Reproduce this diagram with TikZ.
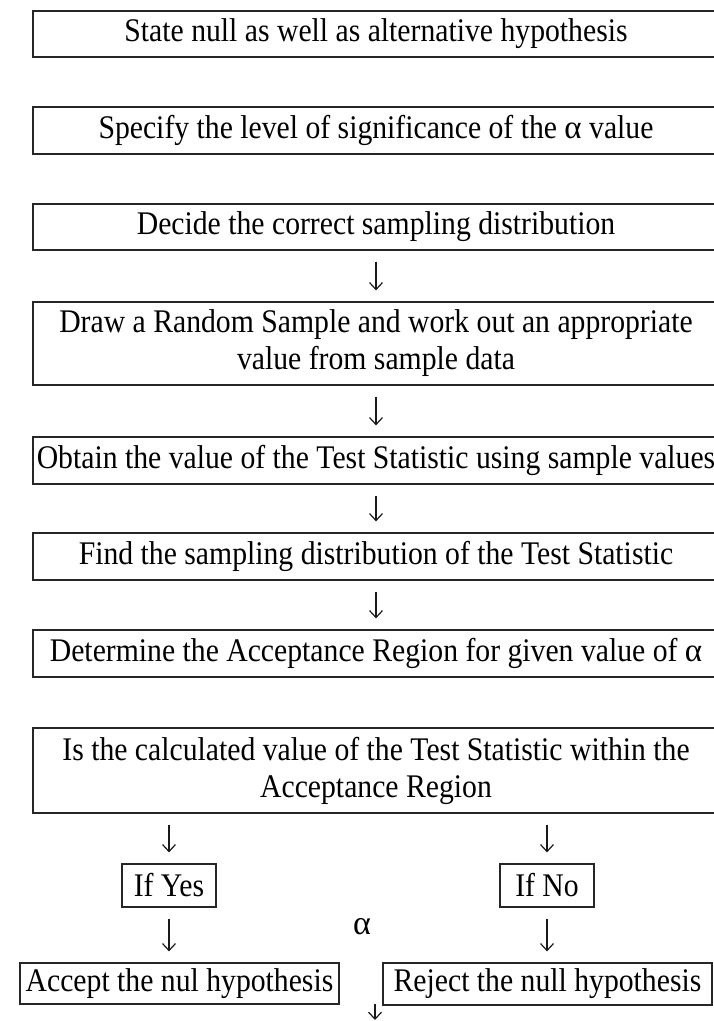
\documentclass[tikz,border=0pt]{standalone}
\usepackage{fontspec}
\setmainfont{Liberation Serif}[FakeStretch=0.9]
\newfontfamily\greekfont{Liberation Serif}
\usetikzlibrary{arrows.meta}
\begin{document}
\begin{tikzpicture}[x=1pt,y=-1pt,
  box/.style={draw=black!85, line width=1.2pt, rectangle, inner sep=0pt, align=center, font=\fontsize{33}{37}\selectfont},
  wide/.style={box, minimum width=686pt},
  flow/.style={line width=1.2pt, black!90, -{Straight Barb[length=7pt,width=13pt,line width=1.2pt]}, shorten <=11pt, shorten >=11pt},
  lbl/.style={font=\fontsize{34}{38}\selectfont, inner sep=0pt}]
\useasboundingbox (0,0) rectangle (714,1021);
\node[wide, minimum height=46pt] (b1) at (376,34) {State null as well as alternative hypothesis};
\node[wide, minimum height=47pt] (b2) at (376,130.5) {Specify the level of significance of the {\greekfont α} value};
\node[wide, minimum height=46pt] (b3) at (376,227) {Decide the correct sampling distribution};
\node[wide, minimum height=83pt] (b4) at (376,343.5) {Draw a Random Sample and work out an appropriate\\value from sample data};
\node[wide, minimum height=47pt] (b5) at (376,460.5) {Obtain the value of the Test Statistic using sample values};
\node[wide, minimum height=47pt] (b6) at (376,556.5) {Find the sampling distribution of the Test Statistic};
\node[wide, minimum height=47pt] (b7) at (376,653.5) {Determine the Acceptance Region for given value of {\greekfont α}};
\node[wide, minimum height=85pt] (b8) at (376,770.5) {Is the calculated value of the Test Statistic within the\\Acceptance Region};
\node[box, minimum width=94pt, minimum height=43pt] (yes) at (169,885.5) {If Yes};
\node[box, minimum width=94pt, minimum height=43pt] (no) at (547,885.5) {If No};
\node[box, minimum width=319pt, minimum height=41pt] (acc) at (179.5,983.5) {Accept the nul hypothesis};
\node[box, minimum width=329pt, minimum height=42pt] (rej) at (547.5,984) {Reject the null hypothesis};
\node[lbl] (alpha) at (362,927) {\greekfont α};
\coordinate (bt) at (375,1004);
\coordinate (bb) at (375,1021);
\draw[flow] (b3) -- (b4);
\draw[flow] (b4) -- (b5);
\draw[flow] (b5) -- (b6);
\draw[flow] (b6) -- (b7);
\draw[flow] (yes |- b8.south) -- (yes.north);
\draw[flow] (no |- b8.south) -- (no.north);
\draw[flow] (yes.south) -- (yes.south |- acc.north);
\draw[flow] (no.south) -- (no.south |- rej.north);
\draw[flow, shorten <=0pt, shorten >=1pt] (bt) -- (bb);
\end{tikzpicture}
\end{document}
